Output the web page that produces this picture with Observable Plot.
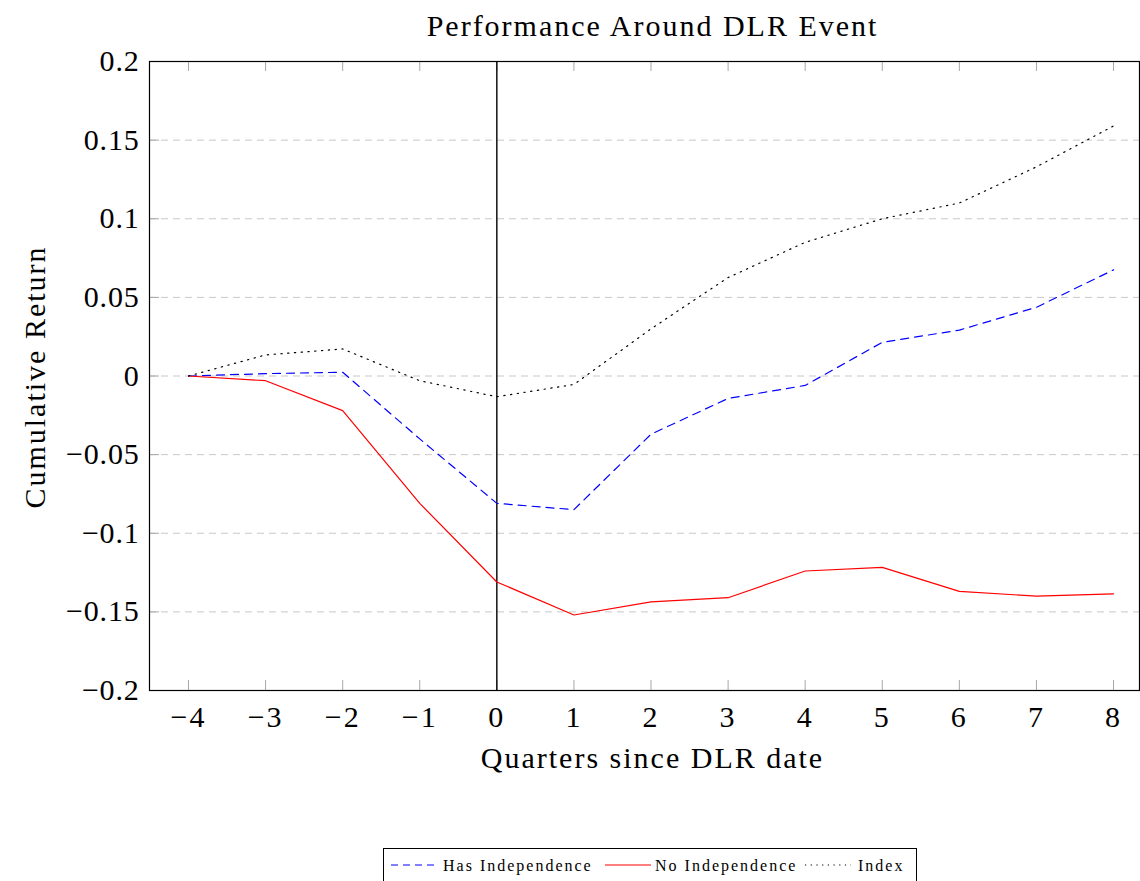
<!DOCTYPE html>
<html>
<head>
<meta charset="utf-8">
<script src="https://cdn.jsdelivr.net/npm/d3@7"></script>
<script src="https://cdn.jsdelivr.net/npm/@observablehq/plot@0.6"></script>
<style>
  body { margin: 0; background: #fff; font-family: "Liberation Serif", "DejaVu Serif", serif; }
  #wrap { position: relative; width: 1140px; height: 881px; overflow: hidden; }
  #legend { position: absolute; left: 383px; top: 848px; width: 534px; height: 34px; border: 1px solid #000; box-sizing: border-box;
            font-size: 16px; letter-spacing: 2px; white-space: nowrap; }
  #legend svg, #legend span { position: absolute; top: 0; }
  #legend svg { top: 11px; }
  #legend span { top: 8px; }
</style>
</head>
<body>
<div id="wrap"><div id="chart"></div><div id="legend"></div></div>
<script>
const quarters = [-4, -3, -2, -1, 0, 1, 2, 3, 4, 5, 6, 7, 8];
const hasIndependence = [0, 0.0015, 0.0024, -0.040, -0.081, -0.085, -0.037, -0.0143, -0.006, 0.0214, 0.0292, 0.0437, 0.0675];
const noIndependence = [0, -0.003, -0.022, -0.081, -0.131, -0.152, -0.1436, -0.141, -0.124, -0.1217, -0.137, -0.140, -0.1385];
const indexReturn = [0, 0.0134, 0.0172, -0.003, -0.0132, -0.0054, 0.030, 0.0626, 0.085, 0.100, 0.110, 0.133, 0.159];
const yTicks = [-0.2, -0.15, -0.1, -0.05, 0, 0.05, 0.1, 0.15, 0.2];
const yTickLabels = ["−0.2", "−0.15", "−0.1", "−0.05", "0", "0.05", "0.1", "0.15", "0.2"];
const xTickLabels = ["−4", "−3", "−2", "−1", "0", "1", "2", "3", "4", "5", "6", "7", "8"];
const seriesNames = ["Has Independence", "No Independence", "Index"];
const seriesColors = ["#0000ff", "#ff0000", "#000000"];
const seriesDash = ["8,6", null, "1.3,5.5"];
const eventQuarter = [0];

const seriesValues = [hasIndependence, noIndependence, indexReturn];
const rows = seriesNames.flatMap((name, i) => quarters.map((q, j) => ({series: name, x: q, y: seriesValues[i][j]})));

const W = 1140, H = 840, mL = 149, mR = 1, mT = 61, mB = H - 690;
const frameW = W - mL - mR, frameH = H - mT - mB;
const FONT = "Liberation Serif, DejaVu Serif, serif";
const FS = 30;

const marks = [
  Plot.ruleY(yTicks.slice(1, -1), {stroke: "#c8c8c8", strokeDasharray: "7,5", strokeWidth: 1}),
  Plot.tickX(quarters, {x: d => d, stroke: "#a8a8a8", strokeWidth: 1, insetTop: frameH - 10}),
  Plot.tickX(quarters, {x: d => d, stroke: "#a8a8a8", strokeWidth: 1, insetBottom: frameH - 10}),
  Plot.tickY(yTicks, {y: d => d, stroke: "#a8a8a8", strokeWidth: 1, insetRight: frameW - 10}),
  Plot.ruleX(eventQuarter, {stroke: "#000", strokeWidth: 1.4}),
];
seriesNames.forEach((name, i) => {
  marks.push(Plot.line(rows.filter(r => r.series === name), {
    x: "x", y: "y", stroke: seriesColors[i], strokeWidth: 1.2,
    strokeDasharray: seriesDash[i] || undefined
  }));
});
marks.push(Plot.frame({stroke: "#000", strokeWidth: 1.2}));
marks.push(Plot.axisX(quarters, {anchor: "bottom", tickSize: 0, tickPadding: 15, fontSize: FS,
  tickFormat: d => xTickLabels[quarters.indexOf(d)], label: null, ariaLabel: "x-axis tick label"}));
marks.push(Plot.axisY(yTicks, {anchor: "left", tickSize: 0, tickPadding: 10, fontSize: FS,
  tickFormat: d => yTickLabels[yTicks.indexOf(d)], label: null}));
marks.push(Plot.text(["Performance Around DLR Event"], {frameAnchor: "top", lineAnchor: "middle", textAnchor: "middle", dy: -35, dx: 8, fontSize: FS, fill: "#000"}));
marks.push(Plot.text(["Quarters since DLR date"], {frameAnchor: "bottom", lineAnchor: "middle", textAnchor: "middle", dy: 68, dx: 8, fontSize: FS, fill: "#000"}));
marks.push(Plot.text(["Cumulative Return"], {frameAnchor: "left", lineAnchor: "middle", textAnchor: "middle", dx: -114, dy: 1, rotate: -90, fontSize: FS, fill: "#000"}));

const chart = Plot.plot({
  width: W, height: H,
  marginLeft: mL, marginRight: mR, marginTop: mT, marginBottom: mB,
  style: {fontFamily: FONT, color: "#000", background: "#fff", overflow: "visible"},
  x: {domain: [-4.506, 8.337], axis: null},
  y: {domain: [-0.2, 0.2], axis: null},
  marks
});
d3.select(chart).selectAll("text").attr("letter-spacing", "2px");
d3.select(chart).selectAll("g[aria-label='y-axis tick label'] text").attr("letter-spacing", "0.8px");
document.getElementById("chart").appendChild(chart);

const legend = document.getElementById("legend");
const sampleLeft = [6, 220, 420];
const textLeft = [59, 271, 474];
seriesNames.forEach((name, i) => {
  const s = d3.create("svg").attr("width", 48).attr("height", 10).style("left", sampleLeft[i] + "px");
  s.append("line").attr("x1", 1).attr("x2", 47).attr("y1", 5).attr("y2", 5)
    .attr("stroke", seriesColors[i]).attr("stroke-width", 1.2)
    .attr("stroke-dasharray", seriesDash[i] ? (i === 0 ? "7,5" : "1.2,4.5") : null);
  legend.appendChild(s.node());
  const t = document.createElement("span");
  t.textContent = name;
  t.style.left = textLeft[i] + "px";
  legend.appendChild(t);
});
</script>
</body>
</html>
